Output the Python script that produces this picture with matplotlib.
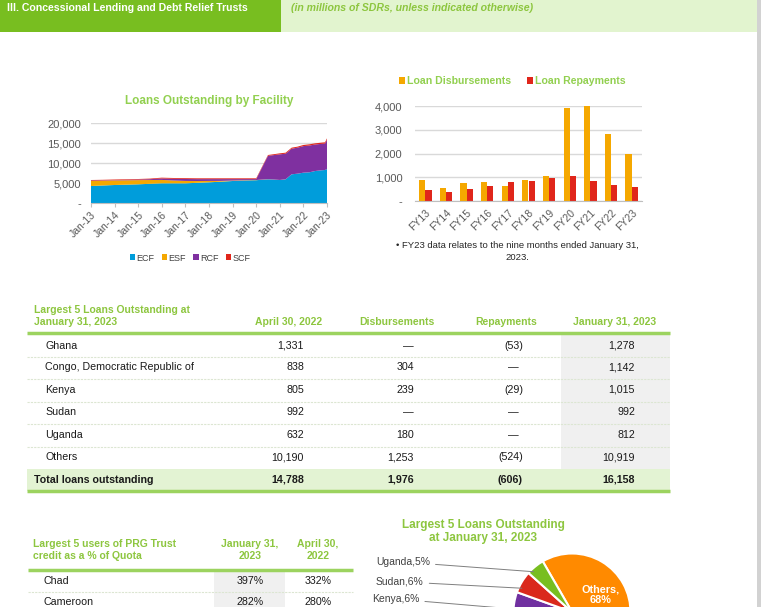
import matplotlib
matplotlib.use("Agg")
import matplotlib.pyplot as plt
from matplotlib.patches import Rectangle
import numpy as np

plt.rcParams['font.family'] = ['Liberation Sans', 'DejaVu Sans']

# ---------------- data ----------------
# Loans outstanding by facility (SDR millions)
dates = ["2013-01", "2013-07", "2014-01", "2014-07", "2015-01", "2015-07", "2016-01",
         "2016-07", "2017-01", "2017-07", "2018-01", "2018-07", "2019-01", "2019-07",
         "2020-01", "2020-07", "2020-10", "2021-01", "2021-04", "2021-07", "2021-10",
         "2022-01", "2022-04", "2022-07", "2022-10", "2022-12", "2023-01"]
ecf = [4250, 4380, 4500, 4580, 4670, 4800, 4920, 4920, 4920, 5050, 5170, 5330, 5500, 5620,
       5700, 5920, 5850, 5750, 5920, 7170, 7330, 7580, 7670, 8000, 8170, 8250, 8500]
esf = [1250, 1200, 1150, 1100, 1050, 950, 850, 700, 600, 450, 350, 200, 120, 80,
       50, 30, 20, 15, 10, 5, 0, 0, 0, 0, 0, 0, 0]
rcf = [100, 70, 70, 100, 130, 200, 360, 430, 480, 470, 450, 440, 350, 270,
       220, 5850, 6110, 6400, 6400, 6400, 6500, 6640, 6700, 6620, 6610, 6600, 7310]
scf = [150, 150, 150, 150, 150, 150, 200, 200, 200, 200, 200, 200, 200, 200,
       200, 200, 220, 250, 250, 250, 250, 280, 300, 300, 300, 320, 350]
facility_names = ["ECF", "ESF", "RCF", "SCF"]
year_ticks = list(range(2013, 2024))

# Disbursements and repayments
fiscal_years = ["FY13", "FY14", "FY15", "FY16", "FY17", "FY18", "FY19", "FY20", "FY21", "FY22", "FY23"]
disbursements = [875, 565, 745, 805, 635, 875, 1055, 3930, 4010, 2820, 1976]
repayments = [450, 380, 520, 635, 790, 860, 960, 1055, 860, 660, 606]

# Largest 5 loans table
countries = ["Ghana", "Congo, Democratic Republic of", "Kenya", "Sudan", "Uganda", "Others"]
apr22 = [1331, 838, 805, 992, 632, 10190]
disb_t = [None, 304, 239, None, 180, 1253]
repay_t = [-53, None, -29, None, None, -524]
jan23 = [1278, 1142, 1015, 992, 812, 10919]

# PRG Trust users
prg_countries = ["Chad", "Cameroon"]
prg_jan23 = [397, 282]
prg_apr22 = [332, 280]

# ---------------- style ----------------
W, H = 761, 607
GREEN_DARK = '#78BE20'
GREEN_LIGHT = '#E2F4CF'
GREEN_TXT = '#8DC63F'
GREEN_LINE = '#9CD35F'
TOTAL_BG = '#E3F3D3'
GRAY_BG = '#F0F0F0'
TICK_GRAY = '#595959'
C_ECF, C_ESF, C_RCF, C_SCF = '#009DDB', '#F5A800', '#7F30A0', '#E0261B'
C_DISB, C_REP = '#F5A800', '#E0261B'
FS = 7.7

fig = plt.figure(figsize=(W / 100, H / 100), dpi=100)


def fr(x0, y0, x1, y1):
    return [x0 / W, 1 - y1 / H, (x1 - x0) / W, (y1 - y0) / H]


# overlay in pixel coordinates (y downward)
ov = fig.add_axes([0, 0, 1, 1])
ov.set_xlim(0, W)
ov.set_ylim(H, 0)
ov.axis('off')

# header band
ov.add_patch(Rectangle((0, 0), 281, 32, color=GREEN_DARK, lw=0))
ov.add_patch(Rectangle((281, 0), 476, 32, color=GREEN_LIGHT, lw=0))
ov.add_patch(Rectangle((757, 0), 4, H, color='#D2D2D2', lw=0))
ov.text(7, 8, "III. Concessional Lending and Debt Relief Trusts", color='white',
        fontsize=7.6, fontweight='bold', va='center', ha='left')
ov.text(291, 8, "(in millions of SDRs, unless indicated otherwise)", color=GREEN_TXT,
        fontsize=7.6, fontweight='bold', style='italic', va='center', ha='left')

# ---------------- area chart ----------------
years = [int(d[:4]) + (int(d[5:]) - 1) / 12 for d in dates]
ax1 = fig.add_axes(fr(91, 123, 327, 203))
ax1.stackplot(years, ecf, esf, rcf, scf, colors=[C_ECF, C_ESF, C_RCF, C_SCF],
              labels=facility_names, linewidth=0)
ax1.set_xlim(2013, 2023)
ax1.set_ylim(0, 20000)
yt = [0, 5000, 10000, 15000, 20000]
ax1.set_yticks(yt)
ax1.set_yticklabels(['-'] + [f"{v:,}" for v in yt[1:]])
ax1.set_xticks(year_ticks)
ax1.set_xticklabels([f"Jan-{y % 100:02d}" for y in year_ticks], rotation=45,
                    ha='right', va='top', rotation_mode='anchor')
ax1.grid(axis='y', color='#D9D9D9', lw=1)
ax1.set_axisbelow(True)
for s in ['top', 'right', 'left']:
    ax1.spines[s].set_visible(False)
ax1.spines['bottom'].set_color('#BFBFBF')
ax1.tick_params(axis='y', length=0, pad=7, labelsize=8, labelcolor=TICK_GRAY)
ax1.tick_params(axis='x', length=3, color='#BFBFBF', pad=2, labelsize=7.5, labelcolor=TICK_GRAY)
ax1.set_title("Loans Outstanding by Facility", color='#92D050', fontsize=8.5,
              fontweight='bold', pad=14)
ax1.legend(loc='center', bbox_to_anchor=(190 / W, 1 - 258 / H), bbox_transform=fig.transFigure,
           ncol=4, frameon=False, fontsize=6.5, handlelength=0.6, handleheight=0.6,
           handletextpad=0.15, columnspacing=0.8, labelcolor='#404040')

# ---------------- bar chart ----------------
ax2 = fig.add_axes(fr(415, 106.3, 642, 201))
x = np.arange(len(fiscal_years))
ax2.bar(x - 0.15, disbursements, 0.3, color=C_DISB, label='Loan Disbursements')
ax2.bar(x + 0.15, repayments, 0.3, color=C_REP, label='Loan Repayments')
ax2.set_xlim(-0.5, len(fiscal_years) - 0.5)
ax2.set_ylim(0, 4000)
bt = [0, 1000, 2000, 3000, 4000]
ax2.set_yticks(bt)
ax2.set_yticklabels(['-'] + [f"{v:,}" for v in bt[1:]])
ax2.set_xticks(x)
ax2.set_xticklabels(fiscal_years, rotation=45, ha='right', va='top', rotation_mode='anchor')
ax2.grid(axis='y', color='#D9D9D9', lw=1)
ax2.set_axisbelow(True)
for s in ['top', 'right', 'left']:
    ax2.spines[s].set_visible(False)
ax2.spines['bottom'].set_color('#BFBFBF')
ax2.tick_params(axis='y', length=0, pad=9, labelsize=8, labelcolor=TICK_GRAY)
ax2.tick_params(axis='x', length=0, pad=5, labelsize=7.5, labelcolor=TICK_GRAY)
ax2.legend(loc='center', bbox_to_anchor=(512 / W, 1 - 81 / H), bbox_transform=fig.transFigure,
           ncol=2, frameon=False, prop={'size': 7.6, 'weight': 'bold'}, labelcolor='#92D050',
           handlelength=0.6, handleheight=0.6, handletextpad=0.15, columnspacing=1.5)
ov.text(517, 246, "\u2022 FY23 data relates to the nine months ended January 31,",
        fontsize=6.8, color='#262626', ha='center', va='center')
ov.text(517, 258, "2023.", fontsize=6.8, color='#262626', ha='center', va='center')

# ---------------- table 1 ----------------
ov.text(34, 310, "Largest 5 Loans Outstanding at", color=GREEN_TXT, fontsize=7.5,
        fontweight='bold', va='center')
ov.text(34, 322, "January 31, 2023", color=GREEN_TXT, fontsize=7.5, fontweight='bold', va='center')
for cx_, lab in [(289, "April 30, 2022"), (397, "Disbursements"), (506, "Repayments"),
                 (615, "January 31, 2023")]:
    ov.text(cx_, 322, lab, color=GREEN_TXT, fontsize=7.5, fontweight='bold', ha='center', va='center')

row_y = [346, 367.5, 390, 412, 435, 457]
sep_y = [357, 379, 401.5, 424, 446.5]
ov.add_patch(Rectangle((561, 334), 109, 135, color=GRAY_BG, lw=0))
ov.add_patch(Rectangle((27, 469), 643, 21.5, color=TOTAL_BG, lw=0))
ov.plot([27, 670], [333, 333], color=GREEN_LINE, lw=2.5, solid_capstyle='butt')
ov.plot([27, 670], [491, 491], color=GREEN_LINE, lw=2.5, solid_capstyle='butt')
for sy in sep_y:
    ov.plot([27, 670], [sy, sy], color='#DCE6D2', lw=0.8, ls=(0, (2, 1)))


def fmt(v):
    if v is None:
        return "\u2014"
    if v < 0:
        return f"({-v:,})"
    return f"{v:,}"


tc = '#1A1A1A'
for i, c in enumerate(countries):
    y = row_y[i]
    ov.text(45, y, c, fontsize=FS, color=tc, va='center')
    ov.text(304, y, fmt(apr22[i]), fontsize=FS, color=tc, va='center', ha='right')
    ov.text(414, y, fmt(disb_t[i]), fontsize=FS, color=tc, va='center', ha='right')
    ov.text(523 if repay_t[i] is not None else 519, y, fmt(repay_t[i]), fontsize=FS,
            color=tc, va='center', ha='right')
    ov.text(635, y, fmt(jan23[i]), fontsize=FS, color=tc, va='center', ha='right')

tot = [sum(apr22), sum(v for v in disb_t if v), sum(v for v in repay_t if v), sum(jan23)]
ov.text(34, 480, "Total loans outstanding", fontsize=FS, fontweight='bold', color=tc, va='center')
for xr, v in zip([304, 414, 523, 635], tot):
    ov.text(xr, 480, fmt(v), fontsize=FS, fontweight='bold', color=tc, va='center', ha='right')

# ---------------- table 2 ----------------
ov.text(33, 544, "Largest 5 users of PRG Trust", color=GREEN_TXT, fontsize=7.5,
        fontweight='bold', va='center')
ov.text(33, 556, "credit as a % of Quota", color=GREEN_TXT, fontsize=7.5,
        fontweight='bold', va='center')
ov.text(250, 544, "January 31,", color=GREEN_TXT, fontsize=7.5, fontweight='bold', ha='center', va='center')
ov.text(250, 556, "2023", color=GREEN_TXT, fontsize=7.5, fontweight='bold', ha='center', va='center')
ov.text(318, 544, "April 30,", color=GREEN_TXT, fontsize=7.5, fontweight='bold', ha='center', va='center')
ov.text(318, 556, "2022", color=GREEN_TXT, fontsize=7.5, fontweight='bold', ha='center', va='center')
ov.add_patch(Rectangle((214, 572), 71, 40, color=GRAY_BG, lw=0))
ov.plot([28, 353], [570, 570], color=GREEN_LINE, lw=2.5, solid_capstyle='butt')
ov.plot([28, 353], [592, 592], color='#DCE6D2', lw=0.8, ls=(0, (2, 1)))
for i, c in enumerate(prg_countries):
    y = 581 + 21 * i
    ov.text(44, y, c, fontsize=FS, color=tc, va='center')
    ov.text(250, y, f"{prg_jan23[i]}%", fontsize=FS, color=tc, va='center', ha='center')
    ov.text(318, y, f"{prg_apr22[i]}%", fontsize=FS, color=tc, va='center', ha='center')

# ---------------- pie chart ----------------
ov.text(483, 525, "Largest 5 Loans Outstanding", color=GREEN_TXT, fontsize=8.5,
        fontweight='bold', ha='center', va='center')
ov.text(483, 538, "at January 31, 2023", color=GREEN_TXT, fontsize=8.5,
        fontweight='bold', ha='center', va='center')

pie_names = ["Others", "Ghana", "Congo", "Kenya", "Sudan", "Uganda"]
pie_vals = [jan23[5], jan23[0], jan23[1], jan23[2], jan23[3], jan23[4]]
pie_cols = ['#FF8A00', '#00A0DC', '#F5C400', '#7030A0', '#DA291C', '#78BE20']
total = sum(pie_vals)
cx, cy, R = 572, 612, 58.5
ax3 = fig.add_axes(fr(cx - R, cy - R, cx + R, cy + R))
wedges, _ = ax3.pie(pie_vals, colors=pie_cols, startangle=120, counterclock=False,
                    radius=1, wedgeprops=dict(edgecolor='white', linewidth=1.5))
ax3.set_xlim(-1, 1)
ax3.set_ylim(-1, 1)
ax3.axis('off')

label_pos = {"Uganda": (376, 562), "Sudan": (376, 581), "Kenya": (372, 599)}
for w, name, v in zip(wedges, pie_names, pie_vals):
    if name in label_pos:
        ang = np.deg2rad(0.25 * w.theta1 + 0.75 * w.theta2)
        lx, ly = label_pos[name]
        ax3.annotate(f"{name},{round(v / total * 100)}%",
                     xy=(0.95 * np.cos(ang), 0.95 * np.sin(ang)),
                     xycoords='data', xytext=(lx, H - ly), textcoords='figure pixels',
                     ha='left', va='center', fontsize=7.5, color='#404040',
                     arrowprops=dict(arrowstyle='-', color='#7F7F7F', lw=0.7,
                                     relpos=(1.0, 0.3), shrinkA=2, shrinkB=0),
                     annotation_clip=False)
ax3.annotate(f"Others,\n{round(pie_vals[0] / total * 100)}%", xy=(601, H - 585),
             xycoords='figure pixels', ha='center', va='top', fontsize=7.8,
             fontweight='bold', color='white', linespacing=1.0)

fig.savefig("out.png", dpi=100)
